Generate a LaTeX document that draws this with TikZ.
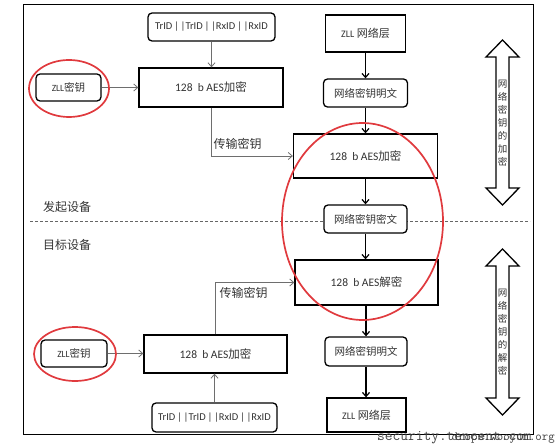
\documentclass[tikz,border=0pt]{standalone}
\usepackage{fontspec}
\setmainfont{Noto Sans CJK SC}
\newfontfamily\lat{Carlito}
\usetikzlibrary{arrows.meta}
\definecolor{txt}{HTML}{333333}
\definecolor{ered}{HTML}{E03A3E}
\definecolor{garr}{HTML}{6E6E6E}
\tikzset{
  rbox/.style={draw, fill=white, rounded corners=4pt, line width=1.3pt, inner sep=0pt, text=txt, font=\fontsize{10.5}{12}\selectfont},
  sbox/.style={draw, fill=white, line width=1.3pt, inner sep=0pt, text=txt, font=\fontsize{11.5}{13}\selectfont},
  garrow/.style={draw=garr, line width=0.8pt, -{Straight Barb[length=4pt,width=7pt]}},
  barrow/.style={draw=black, line width=1.2pt, -{Straight Barb[length=4pt,width=7pt]}},
  ring/.style={draw=ered, line width=1.7pt},
  lbl/.style={text=txt, inner sep=0pt, font=\fontsize{12}{14}\selectfont},
  vtxt/.style={text=txt, inner sep=0pt, align=center, font=\fontsize{9.5}{13}\selectfont},
  dblarrow/.style={draw=black, line width=1.3pt, fill=white, line join=miter}
}
\begin{document}
\begin{tikzpicture}[x=1pt,y=-1pt]
\useasboundingbox (0,0) rectangle (556,446);
% frame
\draw[line width=0.8pt] (23,4) rectangle (533,434);
% dashed separator
\draw[draw=gray!80!black, line width=0.7pt, dash pattern=on 3pt off 2pt] (30,221) -- (530,221);

% left upper
\node[rbox, minimum width=127pt, minimum height=28pt, font=\fontsize{10.5}{12}\selectfont] (trid1) at (211.5,27) {\lat TrID\,|\,|TrID\,|\,|RxID\,|\,|RxID};
\node[rbox, minimum width=65pt, minimum height=27pt] (zll1) at (68.5,87.5) {{\lat\fontsize{9.5}{10}\selectfont ZLL}密钥};
\node[sbox, minimum width=144pt, minimum height=39pt] (aes1) at (211,87.5) {{\lat 128\ \ b AES}加密};

% right column
\node[sbox, minimum width=80pt, minimum height=37pt, font=\fontsize{11}{12}\selectfont] (net1) at (365.5,33.5) {{\lat\fontsize{10}{10}\selectfont ZLL}\ 网络层};
\node[rbox, minimum width=84pt, minimum height=28pt] (plain1) at (365.5,93) {网络密钥明文};
\node[sbox, minimum width=144pt, minimum height=44pt] (aes2) at (365.5,156) {{\lat 128\ \ b AES}加密};
\node[rbox, minimum width=83pt, minimum height=28pt] (cipher) at (365.5,219) {网络密钥密文};
\node[sbox, minimum width=143pt, minimum height=45pt] (dec) at (366.5,282.5) {{\lat 128\ \ b AES}解密};
\node[rbox, minimum width=82pt, minimum height=29pt] (plain2) at (366,351.5) {网络密钥明文};
\node[sbox, minimum width=79pt, minimum height=34pt, font=\fontsize{11}{12}\selectfont] (net2) at (366.5,415) {{\lat\fontsize{10}{10}\selectfont ZLL}\ 网络层};

% left lower
\node[rbox, minimum width=66pt, minimum height=27pt] (zll2) at (74,353.5) {{\lat\fontsize{9.5}{10}\selectfont ZLL}密钥};
\node[sbox, minimum width=143pt, minimum height=38pt] (aes3) at (215.5,354) {{\lat 128\ \ b AES}加密};
\node[rbox, minimum width=125pt, minimum height=29pt, font=\fontsize{10.5}{12}\selectfont] (trid2) at (214.5,417.5) {\lat TrID\,|\,|TrID\,|\,|RxID\,|\,|RxID};

% side labels
\node[lbl] (init) at (67,207) {发起设备};
\node[lbl] (target) at (67,245) {目标设备};
\node[lbl] (tk1) at (237.5,144) {传输密钥};
\node[lbl] (tk2) at (243.5,293) {传输密钥};

% grey connectors
\draw[garrow] (trid1.south) -- (trid1.south |- aes1.north);
\draw[garrow] (zll1.east) -- (zll1.east -| aes1.west);
\draw[garrow] (aes1.south) |- (aes2.west);
\draw[garrow] (trid2.north) -- (trid2.north |- aes3.south);
\draw[garrow] (zll2.east) -- (zll2.east -| aes3.west);
\draw[garrow] (aes3.north) |- (dec.west);

% black connectors
\draw[barrow] (net1.south) -- (net1.south |- plain1.north);
\draw[barrow] (plain1.south) -- (plain1.south |- aes2.north);
\draw[barrow] (aes2.south) -- (aes2.south |- cipher.north);
\draw[barrow] (cipher.south) -- (cipher.south |- dec.north);
\draw[barrow] (plain2.north |- dec.south) -- (plain2.north);
\draw[barrow] (plain2.south) -- (plain2.south |- net2.north);

% double arrows
\draw[dblarrow] (502.5,40) -- (519,57) -- (509,57) -- (509,188) -- (519,188) -- (502.5,205)
  -- (486,188) -- (496,188) -- (496,57) -- (486,57) -- cycle;
\node[vtxt] (enc) at (502.5,123) {网\\络\\密\\钥\\的\\加\\密};
\draw[dblarrow] (502.5,249) -- (519,266) -- (509,266) -- (509,398) -- (519,398) -- (502.5,415)
  -- (486,398) -- (496,398) -- (496,266) -- (486,266) -- cycle;
\node[vtxt] (decr) at (502.5,332) {网\\络\\密\\钥\\的\\解\\密};

% red ellipses
\draw[ring] (69,88.5) ellipse [x radius=40pt, y radius=28.5pt];
\draw[ring] (75,354) ellipse [x radius=41pt, y radius=27pt];
\draw[ring] (362.5,221.5) ellipse [x radius=80.5pt, y radius=98.5pt];

% watermark
\node[anchor=base west, inner sep=0pt, text=black!75, font=\ttfamily\fontsize{15}{15}\selectfont] (wm1) at (377,440) {security.tencent.com};
\node[anchor=base east, inner sep=0pt, text=black!75, font=\ttfamily\fontsize{12.5}{13}\selectfont] (wm2) at (555,440) {drops.wooyun.org};
\end{tikzpicture}
\end{document}
